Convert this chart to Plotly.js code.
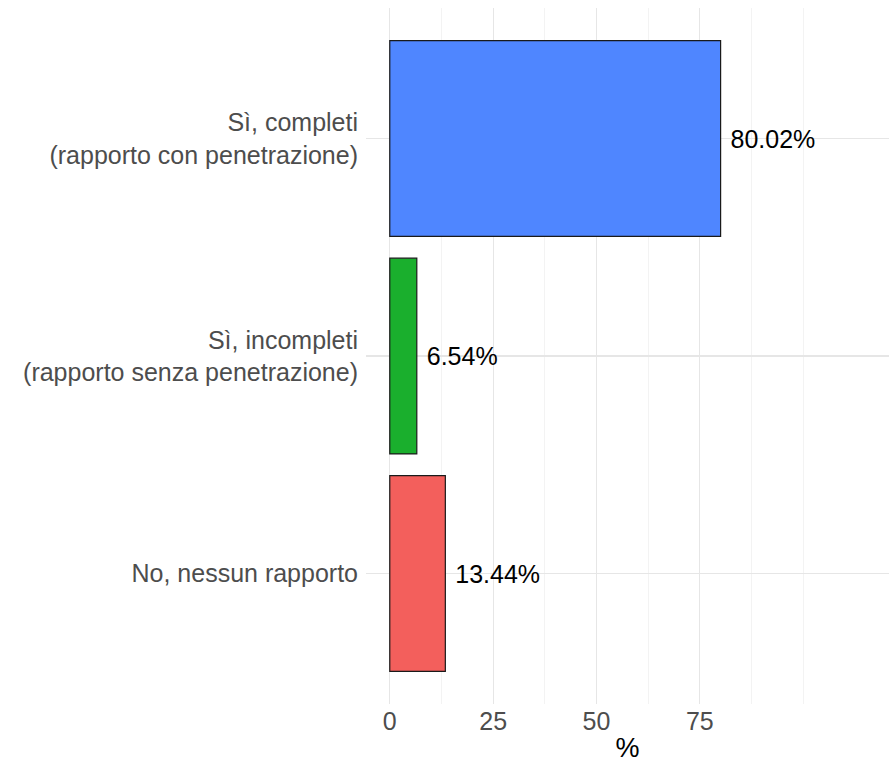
<!DOCTYPE html>
<html>
<head>
<meta charset="utf-8">
<script src="https://cdn.plot.ly/plotly-3.0.1.min.js"></script>
<style>html,body{margin:0;padding:0;background:#fff;}#chart{width:895px;height:765px;}</style>
</head>
<body>
<div id="chart"></div>
<script>
const categories = ["Sì, completi<br>(rapporto con penetrazione)", "Sì, incompleti<br>(rapporto senza penetrazione)", "No, nessun rapporto"];
const values = [80.02, 6.54, 13.44];
const labels = ["80.02%", "6.54%", "13.44%"];
const colors = ["#4f86ff", "#1aaf2d", "#f35f5c"];
const majorTicks = [0, 25, 50, 75];
const minorTicks = [12.5, 37.5, 62.5, 87.5, 100];

const fontFam = "Liberation Sans, Arial, sans-serif";

const traces = [
  {
    type: "bar",
    orientation: "h",
    y: categories,
    x: values,
    width: 0.9,
    marker: {color: colors, line: {color: "#1a1a1a", width: 1.2}},
    text: labels.map(s => " " + s),
    textposition: "outside",
    constraintext: "none",
    cliponaxis: false,
    textfont: {family: fontFam, size: 25, color: "#000"},
    hoverinfo: "none"
  }
];

const layout = {
  width: 895, height: 765,
  margin: {l: 366, r: 6, t: 8, b: 61},
  paper_bgcolor: "#fff", plot_bgcolor: "#fff",
  showlegend: false,
  font: {family: fontFam},
  xaxis: {
    range: [-5.75, 120.75],
    tickvals: majorTicks,
    ticktext: majorTicks.map(String),
    showgrid: true, gridcolor: "#e6e6e6", gridwidth: 1.1,
    minor: {tickvals: minorTicks, showgrid: true, gridcolor: "#ebebeb", gridwidth: 0.6, ticks: ""},
    zeroline: false, showline: false, ticks: "",
    tickfont: {family: fontFam, size: 25, color: "#4d4d4d"},
    title: {text: "%", font: {family: fontFam, size: 27, color: "#000"}, standoff: 4},
    fixedrange: true
  },
  yaxis: {
    type: "category",
    categoryorder: "array",
    categoryarray: categories,
    range: [2.6, -0.6],
    showgrid: true, gridcolor: "#e6e6e6", gridwidth: 1.1,
    zeroline: false, showline: false, ticks: "",
    ticklabelstandoff: 7,
    tickfont: {family: fontFam, size: 25, color: "#4d4d4d"},
    fixedrange: true
  },
  bargap: 0.1
};

Plotly.newPlot("chart", traces, layout, {displayModeBar: false, staticPlot: true});
</script>
</body>
</html>
